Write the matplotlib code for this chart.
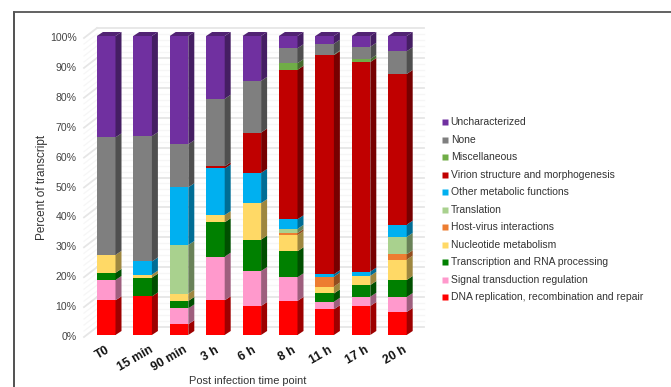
import matplotlib
matplotlib.use("Agg")
import matplotlib.colors as mcolors
import matplotlib.pyplot as plt
from matplotlib.patches import Polygon, Rectangle

WIDTH, HEIGHT = 671, 387

TIME_POINTS = ["T0", "15 min", "90 min", "3 h", "6 h", "8 h", "11 h", "17 h", "20 h"]
CATEGORIES = [
    "DNA replication, recombination and repair",
    "Signal transduction regulation",
    "Transcription and RNA processing",
    "Nucleotide metabolism",
    "Host-virus interactions",
    "Translation",
    "Other metabolic functions",
    "Virion structure and morphogenesis",
    "Miscellaneous",
    "None",
    "Uncharacterized",
]
COLORS = [
    "#FF0000", "#FF99CC", "#008000", "#FFD966", "#ED7D31", "#A9D18E",
    "#00B0F0", "#C00000", "#70AD47", "#7F7F7F", "#7030A0",
]

dna_repair = [11.6, 12.9, 3.6, 11.6, 9.7, 11.4, 8.6, 9.7, 7.7]
signal = [6.8, 0.0, 5.3, 14.6, 11.7, 7.9, 2.5, 3.1, 5.0]
transcription = [2.4, 6.3, 2.5, 11.5, 10.5, 8.7, 2.8, 3.9, 5.7]
nucleotide = [6.0, 1.0, 2.4, 2.4, 12.2, 5.4, 2.3, 3.1, 6.8]
host_virus = [0.0, 0.0, 0.0, 0.0, 0.0, 0.7, 3.3, 0.0, 1.8]
translation = [0.0, 0.0, 16.3, 0.0, 0.0, 1.4, 0.0, 0.0, 5.8]
other_metabolic = [0.0, 4.4, 19.3, 15.6, 10.1, 3.2, 0.8, 1.4, 4.1]
virion = [0.0, 0.0, 0.0, 0.7, 13.5, 50.0, 73.3, 70.1, 50.4]
miscellaneous = [0.0, 0.0, 0.0, 0.0, 0.0, 2.2, 0.2, 1.0, 0.0]
none_assigned = [39.3, 41.9, 14.4, 22.6, 17.3, 5.0, 3.6, 4.1, 7.6]
uncharacterized = [33.9, 33.5, 36.2, 21.0, 15.0, 4.1, 2.6, 3.6, 5.1]

SERIES = [
    dna_repair, signal, transcription, nucleotide, host_virus, translation,
    other_metabolic, virion, miscellaneous, none_assigned, uncharacterized,
]
Y_TICKS = list(range(0, 101, 10))

# layout in pixels
Y0_PX, Y100_PX = 335.0, 36.0
X0_PX, X_STEP_PX = 106.2, 36.4
BAR_W_PX = 18.6
DEPTH_X_PX, DEPTH_Y_PX = 6.0, 4.0
LABEL_NUDGE_PX = [-5, 2, 0, -5, -4, -1, -1, -1, 1]

plt.rcParams["font.family"] = ["Liberation Sans", "DejaVu Sans"]

fig = plt.figure(figsize=(WIDTH / 100, HEIGHT / 100), dpi=100, facecolor="white")
ax = fig.add_axes([0, 0, 1, 1])

# axes cover the whole figure, limits chosen so x is bar index and y is percent
px_per_pct = (Y0_PX - Y100_PX) / 100
ax.set_xlim(-X0_PX / X_STEP_PX, (WIDTH - X0_PX) / X_STEP_PX)
ax.set_ylim((Y0_PX - HEIGHT) / px_per_pct, Y0_PX / px_per_pct)
ax.axis("off")

dx = DEPTH_X_PX / X_STEP_PX
dy = DEPTH_Y_PX / px_per_pct
half = BAR_W_PX / X_STEP_PX / 2


def px_x(x_px):
    return (x_px - X0_PX) / X_STEP_PX


def px_y(y_px):
    return (Y0_PX - y_px) / px_per_pct


def shade(color, factor):
    r, g, b = mcolors.to_rgb(color)
    return (r * factor, g * factor, b * factor)


def draw_walls():
    wall_left, wall_right, front_left = px_x(97.0), px_x(424.0), px_x(84.0)
    back_shift = 8.0 / px_per_pct
    front_shift = -2.0 / px_per_pct
    for i in range(0, 101, 2):
        major = i % 10 == 0
        color = "#E6E6E6" if major else "#F6F6F6"
        lw = 1.3 if major else 0.9
        ax.plot([wall_left, wall_right], [i + back_shift] * 2, color=color, lw=lw, zorder=1)
        ax.plot([front_left, wall_left], [i + front_shift, i + back_shift], color=color, lw=lw, zorder=1)


def draw_bars():
    for i in range(len(TIME_POINTS)):
        bottom = 0.0
        for values, color in zip(SERIES, COLORS):
            value = values[i]
            if value <= 0:
                continue
            top = bottom + value
            left, right = i - half, i + half
            ax.add_patch(Rectangle((left, bottom), right - left, value, fc=color, ec="none", zorder=3))
            side = [(right, bottom), (right + dx, bottom + dy), (right + dx, top + dy), (right, top)]
            ax.add_patch(Polygon(side, fc=shade(color, 0.62), ec="none", zorder=3))
            bottom = top
        cap = [(i - half, bottom), (i + half, bottom), (i + half + dx, bottom + dy), (i - half + dx, bottom + dy)]
        ax.add_patch(Polygon(cap, fc=shade(COLORS[-1], 0.72), ec="none", zorder=3))


def draw_labels():
    for tick in Y_TICKS:
        ax.text(px_x(76.5), tick - 0.7, f"{tick}%", ha="right", va="center", fontsize=7.6, color="#444444")
    for i, label in enumerate(TIME_POINTS):
        x = i + 0.12 + LABEL_NUDGE_PX[i] / X_STEP_PX
        ax.text(x, -3.0, label, rotation=30, rotation_mode="anchor", ha="right", va="top",
                fontsize=8.8, color="#111111", fontweight="bold")
    ax.text(px_x(41.5), 49.3, "Percent of transcript", rotation=90, ha="center", va="center",
            fontsize=8.5, color="#333333")
    ax.text(px_x(247.5), px_y(386.0), "Post infection time point", ha="center", va="bottom",
            fontsize=7.9, color="#333333")


def draw_legend():
    # entries run top to bottom from the last category to the first
    for row, (name, color) in enumerate(zip(CATEGORIES[::-1], COLORS[::-1])):
        y = px_y(122.3 + row * 17.5)
        ax.plot([px_x(445.3)], [y], marker="s", ms=4.4, color=color, mec="none", ls="none", zorder=4)
        ax.text(px_x(450.7), y, name, ha="left", va="center", fontsize=7.5, color="#333333")


def draw_frame():
    # only the left and top edges of the border fall inside the figure
    ax.plot([px_x(14.5), px_x(14.5)], [px_y(387), px_y(11.5)], color="#222222", lw=1.1, zorder=5)
    ax.plot([px_x(14.5), px_x(671)], [px_y(11.5), px_y(11.5)], color="#555555", lw=1.3, zorder=5)


draw_walls()
draw_bars()
draw_labels()
draw_legend()
draw_frame()

fig.savefig("out.png", dpi=100)
